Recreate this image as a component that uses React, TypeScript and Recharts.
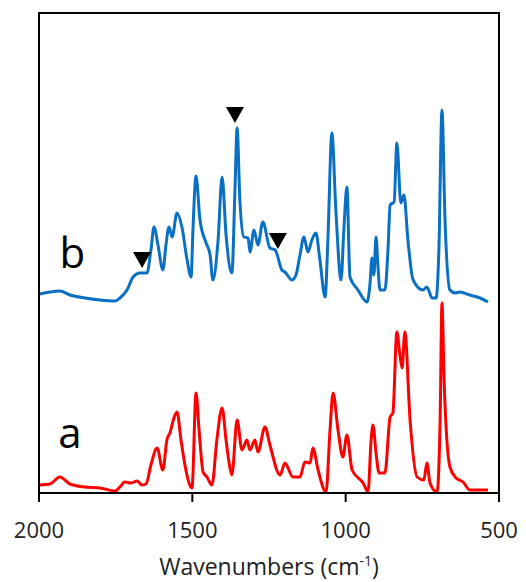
import React from 'react';
import {
  ComposedChart, Line, Scatter, XAxis, YAxis, ReferenceArea, ReferenceDot,
} from 'recharts';

// no page margin so the chart sits flush in the window
document.body.style.margin = '0';

const FONT = '"Open Sans", "Liberation Sans", sans-serif';

// spectrum b (offset trace, top)
const wavenumbersB = [
  1997, 1964, 1932, 1899, 1850, 1801, 1752, 1736, 1713, 1693, 1671, 1648, 1635, 1625, 1612,
  1596, 1586, 1576, 1566, 1550, 1534, 1517, 1504, 1498, 1488, 1475, 1455, 1442, 1433, 1416,
  1403, 1390, 1371, 1361, 1354, 1345, 1332, 1318, 1312, 1299, 1286, 1270, 1247, 1230, 1208,
  1198, 1175, 1162, 1149, 1136, 1123, 1110, 1097, 1084, 1067, 1058, 1045, 1032, 1015, 1006,
  996, 986, 960, 930, 921, 914, 908, 901, 895, 888, 872, 862, 855, 842, 833,
  820, 810, 797, 780, 748, 735, 718, 705, 696, 686, 676, 660, 643, 627, 595,
  562, 536,
];
const intensityB = [
  1.99, 2.01, 2.02, 1.98, 1.95, 1.93, 1.92, 1.95, 2.03, 2.16, 2.2, 2.2, 2.43, 2.66, 2.48,
  2.23, 2.48, 2.66, 2.56, 2.8, 2.66, 2.33, 2.16, 2.63, 3.17, 2.73, 2.5, 2.38, 2.13, 2.53,
  3.16, 2.58, 2.2, 3.03, 3.65, 2.93, 2.56, 2.55, 2.41, 2.63, 2.48, 2.71, 2.45, 2.43, 2.23,
  2.21, 2.13, 2.18, 2.38, 2.56, 2.41, 2.53, 2.6, 2.33, 1.96, 2.53, 3.6, 2.83, 2.13, 2.63,
  3.06, 2.16, 2.03, 1.91, 2.08, 2.35, 2.18, 2.56, 2.28, 2.03, 2.03, 2.43, 2.88, 2.91, 3.5,
  2.9, 2.98, 2.53, 2.13, 2.03, 2.06, 1.95, 1.95, 2.43, 3.83, 2.73, 2.03, 2.0, 2.01, 1.98,
  1.95, 1.91,
];

// spectrum a (bottom trace)
const wavenumbersA = [
  1997, 1964, 1932, 1899, 1850, 1801, 1752, 1736, 1720, 1700, 1680, 1664, 1651, 1635, 1615,
  1596, 1583, 1573, 1560, 1550, 1537, 1521, 1501, 1488, 1478, 1465, 1452, 1436, 1420, 1403,
  1390, 1380, 1371, 1354, 1338, 1322, 1312, 1296, 1286, 1263, 1247, 1214, 1198, 1172, 1149,
  1133, 1116, 1107, 1090, 1064, 1051, 1041, 1025, 1009, 996, 979, 943, 927, 917, 911,
  901, 891, 872, 855, 846, 833, 823, 816, 807, 790, 767, 745, 735, 725, 702,
  692, 686, 679, 660, 640, 617, 595, 536,
];
const intensityA = [
  0.08, 0.09, 0.16, 0.09, 0.06, 0.05, 0.02, 0.06, 0.11, 0.1, 0.12, 0.08, 0.09, 0.28, 0.45,
  0.23, 0.53, 0.6, 0.75, 0.81, 0.53, 0.23, 0.05, 1.0, 0.63, 0.21, 0.16, 0.08, 0.53, 0.85,
  0.53, 0.3, 0.18, 0.73, 0.43, 0.53, 0.43, 0.53, 0.41, 0.66, 0.48, 0.18, 0.3, 0.16, 0.16,
  0.31, 0.3, 0.45, 0.23, 0.01, 0.63, 1.0, 0.63, 0.36, 0.58, 0.23, 0.1, 0.01, 0.53, 0.68,
  0.4, 0.2, 0.2, 0.76, 0.8, 1.61, 1.38, 1.25, 1.61, 0.73, 0.16, 0.13, 0.3, 0.1, 0.01,
  0.73, 1.9, 1.13, 0.26, 0.15, 0.11, 0.03, 0.03,
];

// marked bands on spectrum b
const markerWavenumbers = [1664, 1361, 1221];
const markerIntensity = [2.33, 3.78, 2.52];

const xTicks = [2000, 1500, 1000, 500];

const traceA = wavenumbersA.map((wn, i) => ({ wn, y: intensityA[i] }));
const traceB = wavenumbersB.map((wn, i) => ({ wn, y: intensityB[i] }));
const markers = markerWavenumbers.map((wn, i) => ({ wn, y: markerIntensity[i] }));

const DownTriangle = (props: any) => {
  const { cx, cy } = props;
  return <path d={`M${cx - 9},${cy - 8} L${cx + 9},${cy - 8} L${cx},${cy + 8} Z`} fill="#000" />;
};

const traceLabel = (text: string) => (props: any) => (
  <text x={props.cx} y={props.cy} textAnchor="middle" fontSize={42} fontFamily={FONT} fill="#000">
    {text}
  </text>
);

const AxisTitle = (props: any) => {
  const vb = props.viewBox;
  return (
    <text x={vb.x + vb.width / 2} y={vb.y + 82} textAnchor="middle" fontSize={23} fontFamily={FONT} fill="#222">
      Wavenumbers (cm<tspan dy={-9} fontSize={14}>-1</tspan><tspan dy={9}>)</tspan>
    </text>
  );
};

const App: React.FC = () => (
  <ComposedChart width={526} height={582} margin={{ top: 13, right: 27, bottom: 0, left: 39 }}>
    <XAxis
      dataKey="wn"
      type="number"
      domain={[500, 2000]}
      reversed
      ticks={xTicks}
      allowDataOverflow
      height={89}
      axisLine={{ stroke: '#000', strokeWidth: 2 }}
      tickLine={{ stroke: '#000', strokeWidth: 2 }}
      tickSize={9}
      tickMargin={20}
      tick={{ fill: '#222', fontSize: 22, fontFamily: FONT }}
      label={AxisTitle}
    />
    <YAxis type="number" domain={[0, 4.8]} hide allowDataOverflow />
    <ReferenceArea x1={2000} x2={500} y1={0} y2={4.8} fill="none" stroke="#000" strokeWidth={2} fillOpacity={0} />
    <Line data={traceA} dataKey="y" type="monotone" stroke="#FF0000" strokeWidth={3} dot={false} isAnimationActive={false} />
    <Line data={traceB} dataKey="y" type="monotone" stroke="#0A70C4" strokeWidth={3} dot={false} isAnimationActive={false} />
    <Scatter data={markers} dataKey="y" shape={DownTriangle} isAnimationActive={false} />
    <ReferenceDot x={1891} y={2.25} r={0} shape={traceLabel('b')} />
    <ReferenceDot x={1899} y={0.45} r={0} shape={traceLabel('a')} />
  </ComposedChart>
);

export default App;
